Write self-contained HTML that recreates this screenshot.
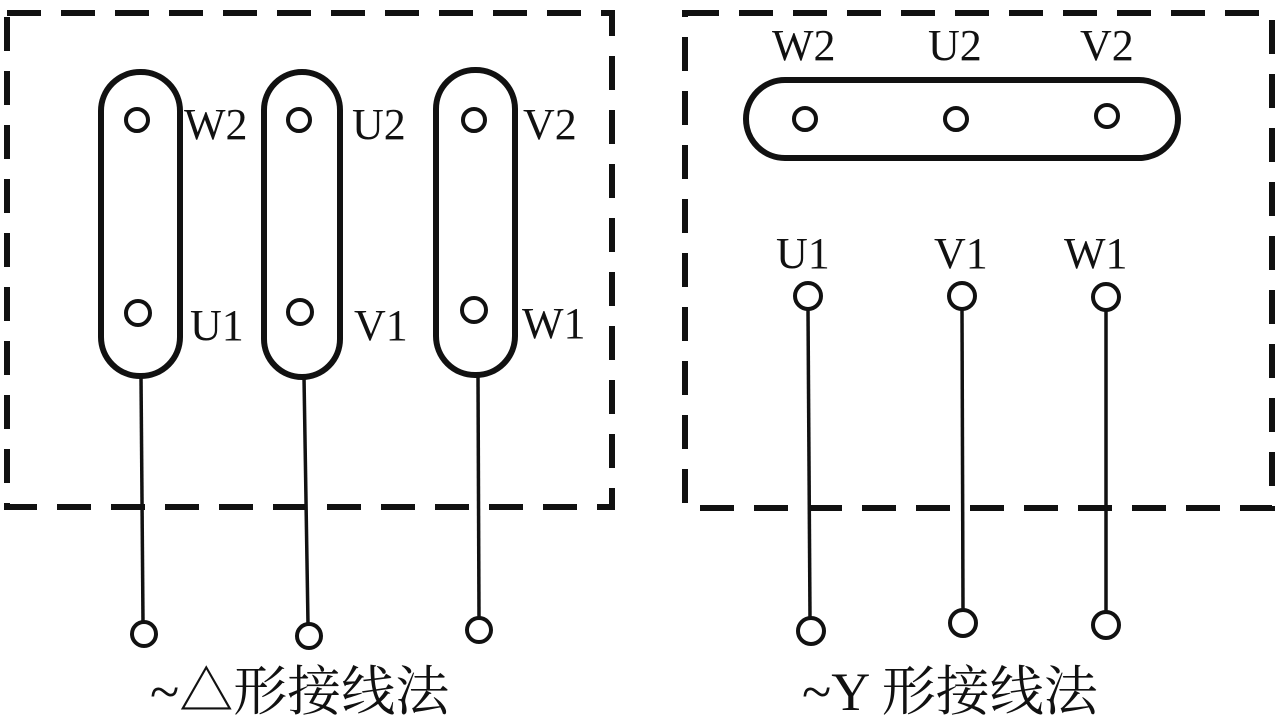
<!DOCTYPE html>
<html><head><meta charset="utf-8"><style>
html,body{margin:0;padding:0;background:#fff;}
svg{display:block}
text{font-family:"Liberation Serif","Noto Serif CJK SC",serif;fill:#111;}
</style></head><body>
<svg width="1280" height="720" viewBox="0 0 1280 720" xmlns="http://www.w3.org/2000/svg">
<g fill="none" stroke="#111" stroke-width="6">
<rect x="7" y="13" width="605" height="494" stroke-dasharray="34,20"/>
<rect x="685" y="13" width="587" height="495" stroke-dasharray="34,20"/>
<rect x="101" y="72" width="79" height="304" rx="39"/>
<rect x="264" y="72" width="76" height="305" rx="38"/>
<rect x="436" y="70" width="79" height="305" rx="39"/>
<rect x="746" y="80" width="432" height="78" rx="39"/>
</g>
<g fill="none" stroke="#111" stroke-width="4">
<circle cx="137" cy="120" r="11"/><circle cx="138" cy="313" r="12"/>
<circle cx="299" cy="120" r="11"/><circle cx="300" cy="312" r="12"/>
<circle cx="474" cy="120" r="11"/><circle cx="474" cy="310" r="12"/>
<circle cx="805" cy="119" r="11"/><circle cx="956" cy="119" r="11"/><circle cx="1107" cy="116" r="11"/>
<circle cx="808" cy="296" r="13"/><circle cx="962" cy="296" r="13"/><circle cx="1106" cy="297" r="13"/>
<circle cx="144" cy="634" r="12"/><circle cx="309" cy="636" r="12"/><circle cx="479" cy="630" r="12"/>
<circle cx="811" cy="631" r="13"/><circle cx="963" cy="623" r="13"/><circle cx="1106" cy="625" r="13"/>
</g>
<g stroke="#111" stroke-width="3.5">
<line x1="141" y1="376" x2="143" y2="622"/>
<line x1="304" y1="377" x2="308" y2="624"/>
<line x1="478" y1="375" x2="479" y2="618"/>
<line x1="808" y1="309" x2="810" y2="618"/>
<line x1="962" y1="309" x2="963" y2="610"/>
<line x1="1106" y1="310" x2="1106" y2="612"/>
</g>
<g font-size="44">
<text x="184" y="139">W2</text><text x="352" y="139">U2</text><text x="523" y="139">V2</text>
<text x="190" y="340">U1</text><text x="354" y="340">V1</text><text x="522" y="338">W1</text>
<text x="772" y="60">W2</text><text x="928" y="60">U2</text><text x="1080" y="60">V2</text>
<text x="776" y="268">U1</text><text x="934" y="268">V1</text><text x="1064" y="268">W1</text>
</g>
<g font-size="54">
<text x="150" y="710">~△形接线法</text>
<text x="802" y="710">~Y 形接线法</text>
</g>
</svg>
</body></html>
